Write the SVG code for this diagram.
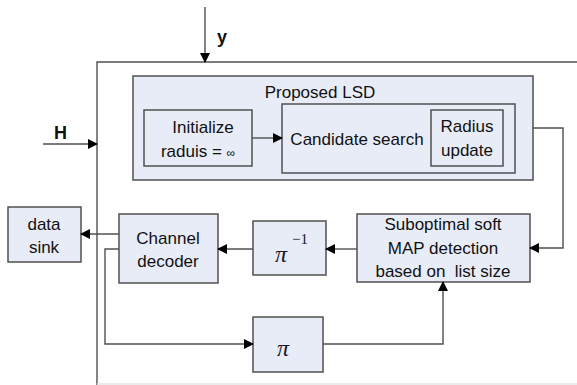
<svg xmlns="http://www.w3.org/2000/svg" width="577" height="385" viewBox="0 0 577 385">
<style>
.box{fill:#e8ecf7;stroke:#505050;stroke-width:1.5}
.ln{fill:none;stroke:#505050;stroke-width:1.4}
.t{font-family:"Liberation Sans",Arial,sans-serif;font-size:17px;fill:#111;text-anchor:middle}
.b{font-family:"Liberation Sans",Arial,sans-serif;font-size:18px;font-weight:bold;fill:#111}
.pi{font-family:"Liberation Serif","Times New Roman",serif;font-style:italic;font-size:24px;fill:#1a1a2a}
</style>
<defs>
<marker id="ah" markerWidth="10" markerHeight="10" refX="9" refY="5" orient="auto" markerUnits="userSpaceOnUse">
<path d="M0,0 L10,5 L0,10 Z" fill="#000"/>
</marker>
</defs>
<rect width="577" height="385" fill="#fff"/>
<g id="frame">
<path class="ln" d="M97,385 V62 H577"/>
<line x1="97" y1="384" x2="577" y2="384" stroke="#e4e4e4" stroke-width="1.5"/>
</g>
<g id="lsd">
<rect class="box" x="133" y="76" width="400" height="104"/>
<text class="t" x="320" y="98">Proposed LSD</text>
</g>
<g id="init">
<rect class="box" x="144" y="110" width="108" height="56"/>
<text class="t" x="203" y="133">Initialize</text>
<text class="t" x="198" y="157">raduis = <tspan font-size="12">∞</tspan></text>
</g>
<g id="cand">
<rect class="box" x="282" y="104" width="233" height="69"/>
<text class="t" x="357" y="145">Candidate search</text>
</g>
<g id="radius">
<rect class="box" x="431" y="110" width="72" height="56"/>
<text class="t" x="467" y="132">Radius</text>
<text class="t" x="467" y="156">update</text>
</g>
<g id="subopt">
<rect class="box" x="357" y="214" width="173" height="68"/>
<text class="t" x="443" y="230">Suboptimal soft</text>
<text class="t" x="443" y="254">MAP detection</text>
<text class="t" x="443" y="277" xml:space="preserve">based on  list size</text>
</g>
<g id="pinv">
<rect class="box" x="253" y="221" width="73" height="54"/>
<text class="pi" x="275" y="262">π</text>
<text x="292" y="244" font-family="'Liberation Serif',serif" font-size="15" fill="#1a1a2a">−1</text>
</g>
<g id="decoder">
<rect class="box" x="119" y="214" width="99" height="69"/>
<text class="t" x="168" y="244">Channel</text>
<text class="t" x="168" y="267">decoder</text>
</g>
<g id="sink">
<rect class="box" x="8" y="207" width="73" height="55"/>
<text class="t" x="44" y="230">data</text>
<text class="t" x="44" y="253">sink</text>
</g>
<g id="pi">
<rect class="box" x="253" y="317" width="70" height="55"/>
<text class="pi" x="277" y="356">π</text>
</g>
<g id="labels">
<text class="b" x="217" y="43">y</text>
<text class="b" x="54" y="139">H</text>
</g>
<g id="connectors">
<line class="ln" x1="205" y1="7" x2="205" y2="62" marker-end="url(#ah)"/>
<line class="ln" x1="43" y1="144" x2="97" y2="144" marker-end="url(#ah)"/>
<line class="ln" x1="252" y1="138" x2="282" y2="138" marker-end="url(#ah)"/>
<path class="ln" d="M533,128 H563 V248 H530" marker-end="url(#ah)"/>
<line class="ln" x1="357" y1="249" x2="326" y2="249" marker-end="url(#ah)"/>
<line class="ln" x1="253" y1="249" x2="218" y2="249" marker-end="url(#ah)"/>
<line class="ln" x1="119" y1="234" x2="81" y2="234" marker-end="url(#ah)"/>
<path class="ln" d="M119,249 H105 V344 H253" marker-end="url(#ah)"/>
<path class="ln" d="M323,344 H443 V282" marker-end="url(#ah)"/>
</g>
</svg>
